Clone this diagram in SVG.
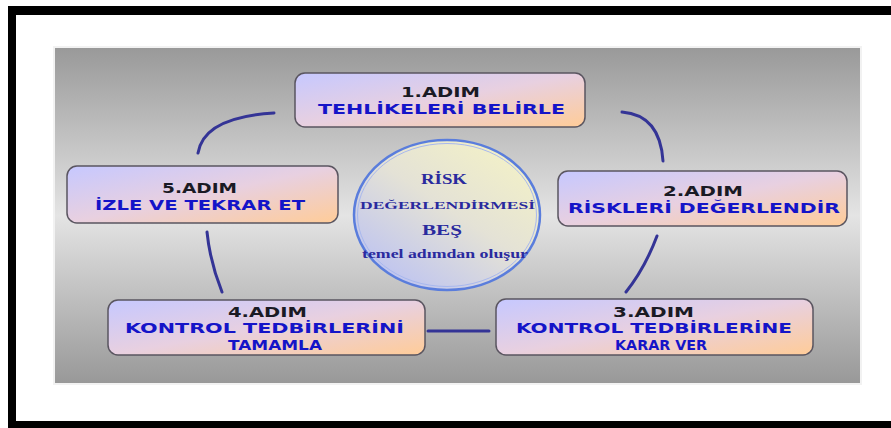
<svg xmlns="http://www.w3.org/2000/svg" width="891" height="428" viewBox="0 0 891 428">
<defs>
<linearGradient id="panel" x1="0" y1="0" x2="0" y2="1">
<stop offset="0" stop-color="#999999"/>
<stop offset="0.5" stop-color="#e4e4e4"/>
<stop offset="1" stop-color="#989898"/>
</linearGradient>
<linearGradient id="box" x1="0" y1="0" x2="1" y2="1">
<stop offset="0" stop-color="#c6c8ff"/>
<stop offset="0.5" stop-color="#e8d0e0"/>
<stop offset="1" stop-color="#ffcc98"/>
</linearGradient>
<linearGradient id="oval" x1="0.85" y1="0.1" x2="0.15" y2="0.95">
<stop offset="0" stop-color="#f2f0c8"/>
<stop offset="0.45" stop-color="#e4e2d6"/>
<stop offset="1" stop-color="#bcc2f2"/>
</linearGradient>
</defs>
<style>
.bx{fill:url(#box);stroke:#5a5560;stroke-width:1.5}
.h{font-family:"DejaVu Sans",Verdana,sans-serif;font-weight:bold;font-size:13.5px;fill:#1a1a24;text-anchor:middle}
.t{font-family:"DejaVu Sans",Verdana,sans-serif;font-weight:bold;font-size:13.5px;fill:#1414c8;text-anchor:middle}
.c{font-family:"Liberation Serif","Times New Roman",serif;font-weight:bold;fill:#2a2a9e;text-anchor:middle}
.cn{fill:none;stroke:#343496;stroke-width:3;stroke-linecap:round}
</style>
<rect x="0" y="0" width="891" height="428" fill="#ffffff"/>
<g id="frame">
<rect x="8" y="6" width="883" height="9" fill="#000"/>
<rect x="8" y="6" width="8" height="422" fill="#000"/>
<rect x="8" y="421" width="883" height="7" fill="#000"/>
</g>
<rect id="panel-bg" x="54" y="47" width="807" height="337" fill="url(#panel)" stroke="#f2f2f2" stroke-width="2"/>
<g id="connectors">
<path class="cn" d="M198,153 Q204,117 274,113"/>
<path class="cn" d="M622,112 Q660,115 663,161"/>
<path class="cn" d="M657,236 Q645,268 626,292"/>
<path class="cn" d="M428,331 L489,331"/>
<path class="cn" d="M222,292 Q210,262 207,232"/>
</g>
<g id="center">
<ellipse cx="447" cy="215" rx="93" ry="75" fill="url(#oval)" stroke="#5a7ddc" stroke-width="2.5"/>
<ellipse cx="447" cy="215" rx="89.5" ry="71.5" fill="none" stroke="#a8b8ee" stroke-width="1"/>
<text class="c" x="444" y="184" font-size="14" textLength="46" lengthAdjust="spacingAndGlyphs">RİSK</text>
<text class="c" x="447.5" y="209" font-size="11" textLength="175" lengthAdjust="spacingAndGlyphs">DEĞERLENDİRMESİ</text>
<text class="c" x="442" y="235" font-size="15" textLength="40" lengthAdjust="spacingAndGlyphs">BEŞ</text>
<text class="c" x="445" y="258" font-size="12.5" textLength="166" lengthAdjust="spacingAndGlyphs">temel adımdan oluşur</text>
</g>
<g id="step1">
<rect class="bx" x="295" y="73" width="290" height="54" rx="10"/>
<text class="h" x="440.5" y="97" textLength="79" lengthAdjust="spacingAndGlyphs">1.ADIM</text>
<text class="t" x="441.5" y="113.5" textLength="247" lengthAdjust="spacingAndGlyphs">TEHLİKELERİ BELİRLE</text>
</g>
<g id="step2">
<rect class="bx" x="558" y="171" width="289" height="55" rx="10"/>
<text class="h" x="703" y="196" textLength="80" lengthAdjust="spacingAndGlyphs">2.ADIM</text>
<text class="t" x="704" y="213" textLength="272" lengthAdjust="spacingAndGlyphs">RİSKLERİ DEĞERLENDİR</text>
</g>
<g id="step3">
<rect class="bx" x="496" y="299" width="317" height="56" rx="10"/>
<text class="h" x="653.5" y="316.5" textLength="81" lengthAdjust="spacingAndGlyphs">3.ADIM</text>
<text class="t" x="654" y="333" textLength="276" lengthAdjust="spacingAndGlyphs">KONTROL TEDBİRLERİNE</text>
<text class="t" x="661" y="349.5" textLength="92" lengthAdjust="spacingAndGlyphs">KARAR VER</text>
</g>
<g id="step4">
<rect class="bx" x="108" y="300" width="317" height="55" rx="10"/>
<text class="h" x="267.5" y="316.5" textLength="79" lengthAdjust="spacingAndGlyphs">4.ADIM</text>
<text class="t" x="264.5" y="333" textLength="279" lengthAdjust="spacingAndGlyphs">KONTROL TEDBİRLERİNİ</text>
<text class="t" x="275" y="349.5" textLength="94" lengthAdjust="spacingAndGlyphs">TAMAMLA</text>
</g>
<g id="step5">
<rect class="bx" x="67" y="166" width="271" height="57" rx="10"/>
<text class="h" x="199.5" y="193" textLength="75" lengthAdjust="spacingAndGlyphs">5.ADIM</text>
<text class="t" x="200" y="210" textLength="210" lengthAdjust="spacingAndGlyphs">İZLE VE TEKRAR ET</text>
</g>
</svg>
